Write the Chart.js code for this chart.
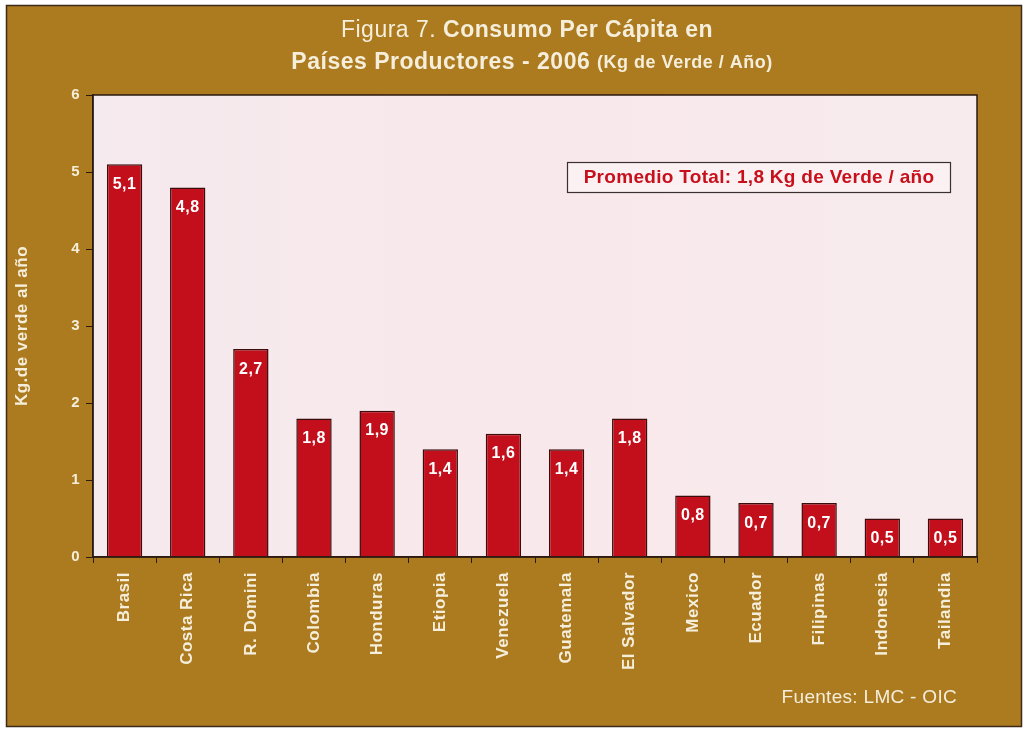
<!DOCTYPE html>
<html>
<head>
<meta charset="utf-8">
<title>Consumo Per Cápita en Países Productores - 2006</title>
<script src="https://cdn.jsdelivr.net/npm/chart.js@4/dist/chart.umd.min.js"></script>
<style>
  html, body { margin: 0; padding: 0; background: #ffffff; }
  #wrap { width: 1027px; height: 730px; position: relative; }
</style>
</head>
<body>
<div id="wrap"><canvas id="consumoChart" width="1027" height="730"></canvas></div>
<script>
// Consumo per cápita por país (kg de café verde / año)

const paises = ["Brasil", "Costa Rica", "R. Domini", "Colombia", "Honduras", "Etiopia", "Venezuela",
  "Guatemala", "El Salvador", "Mexico", "Ecuador", "Filipinas", "Indonesia", "Tailandia"];

const consumo = [5.1, 4.8, 2.7, 1.8, 1.9, 1.4, 1.6, 1.4, 1.8, 0.8, 0.7, 0.7, 0.5, 0.5];

const yTicks = [0, 1, 2, 3, 4, 5, 6];

const titleLine1 = ["Figura 7. ", "Consumo Per Cápita en"];
const titleLine2 = ["Países Productores - 2006 ", "(Kg de Verde / Año)"];
const promedioText = "Promedio Total: 1,8 Kg de Verde / año";
const fuenteText = "Fuentes: LMC - OIC";

const BROWN = "#ac7a1f";
const CREAM = "#f5eedb";
const BAR_RED = "#c20f1b";
const DARK = "#2b1a12";
const FONT = "'Liberation Sans', Arial, sans-serif";

// decimal comma
const fmt = v => v.toFixed(1).replace(".", ",");

// slightly wider lettering for the axis texts
const spacing = {
  id: "spacing",
  beforeUpdate(chart) { chart.ctx.letterSpacing = "0.5px"; },
  beforeDraw(chart) { chart.ctx.letterSpacing = "0.5px"; }
};

// Frame, plot background, titles and annotation box
const decor = {
  id: "decor",
  beforeDraw(chart) {
    const { ctx, chartArea: a } = chart;
    ctx.save();
    ctx.fillStyle = "#ffffff";
    ctx.fillRect(0, 0, chart.width, chart.height);
    ctx.fillStyle = BROWN;
    ctx.fillRect(6, 5, 1016, 722);
    ctx.strokeStyle = "#3d2a1a";
    ctx.lineWidth = 1.5;
    ctx.strokeRect(6.5, 5.5, 1015, 721);

    // plot area
    const g = ctx.createLinearGradient(a.left, 0, a.right, 0);
    g.addColorStop(0, "#f5eaee");
    g.addColorStop(0.5, "#f9e8eb");
    g.addColorStop(1, "#f7ebed");
    ctx.fillStyle = g;
    ctx.fillRect(a.left, a.top, a.right - a.left, a.bottom - a.top);
    ctx.restore();
  },
  afterDatasetsDraw(chart) {
    const { ctx, chartArea: a } = chart;
    ctx.save();
    ctx.strokeStyle = DARK;
    ctx.lineWidth = 1.5;
    ctx.strokeRect(a.left, a.top, a.right - a.left, a.bottom - a.top);

    // title, mixed weights on each line
    ctx.fillStyle = CREAM;
    ctx.textBaseline = "middle";
    ctx.letterSpacing = "0.5px";
    const drawMixed = (parts, fonts, cx, y) => {
      const widths = parts.map((p, i) => { ctx.font = fonts[i]; return ctx.measureText(p).width; });
      let x = cx - widths.reduce((s, w) => s + w, 0) / 2;
      parts.forEach((p, i) => {
        ctx.font = fonts[i];
        ctx.textAlign = "left";
        ctx.fillText(p, x, y);
        x += widths[i];
      });
    };
    drawMixed(titleLine1, ["23px " + FONT, "bold 23px " + FONT], 527, 31);
    drawMixed(titleLine2, ["bold 23px " + FONT, "bold 18px " + FONT], 532, 63);

    // average box
    ctx.fillStyle = "#fbf1f2";
    ctx.fillRect(567, 162, 384, 31);
    ctx.strokeStyle = "#3a3030";
    ctx.lineWidth = 1.2;
    ctx.strokeRect(567.5, 162.5, 383, 30);
    ctx.fillStyle = "#c8101c";
    ctx.font = "bold 19px " + FONT;
    ctx.letterSpacing = "0.3px";
    ctx.textAlign = "center";
    ctx.fillText(promedioText, 759, 178);

    // source
    ctx.fillStyle = CREAM;
    ctx.font = "19px " + FONT;
    ctx.letterSpacing = "0.3px";
    ctx.textAlign = "right";
    ctx.fillText(fuenteText, 957, 698);

    // values inside the bars
    const meta = chart.getDatasetMeta(0);
    ctx.fillStyle = "#ffffff";
    ctx.font = "bold 16px " + FONT;
    ctx.letterSpacing = "0.5px";
    ctx.textAlign = "center";
    meta.data.forEach((bar, i) => {
      ctx.fillText(fmt(consumo[i]), bar.x, bar.y + 20);
    });
    ctx.restore();
  }
};

new Chart(document.getElementById("consumoChart"), {
  type: "bar",
  data: {
    labels: paises,
    datasets: [{
      data: consumo,
      backgroundColor: BAR_RED,
      borderColor: "#3a0c0c",
      borderWidth: 1.5,
      barPercentage: 0.56,
      categoryPercentage: 1
    }]
  },
  options: {
    responsive: false,
    animation: false,
    devicePixelRatio: 1,
    layout: { padding: { top: 95, right: 50, left: 0, bottom: 0 } },
    plugins: {
      legend: { display: false },
      tooltip: { enabled: false }
    },
    scales: {
      x: {
        grid: { drawOnChartArea: false, drawTicks: true, tickLength: 6, color: DARK, offset: true },
        border: { display: true, color: DARK, width: 1.5 },
        ticks: {
          color: CREAM,
          font: { family: FONT, size: 17, weight: "bold" },
          minRotation: 90,
          maxRotation: 90,
          padding: 9,
          autoSkip: false
        },
        afterFit(scale) { scale.height = 173; }
      },
      y: {
        min: 0,
        max: 6,
        afterBuildTicks(scale) { scale.ticks = yTicks.map(v => ({ value: v })); },
        grid: { drawOnChartArea: false, drawTicks: true, tickLength: 7, color: DARK },
        border: { display: true, color: DARK, width: 1.5 },
        ticks: {
          color: CREAM,
          font: { family: FONT, size: 15, weight: "bold" },
          padding: 6
        },
        title: {
          display: true,
          text: "Kg.de verde al año",
          color: CREAM,
          font: { family: FONT, size: 17, weight: "bold" },
          padding: { top: 12, bottom: 0 }
        },
        afterFit(scale) { scale.width = 93; }
      }
    }
  },
  plugins: [spacing, decor]
});
</script>
</body>
</html>
